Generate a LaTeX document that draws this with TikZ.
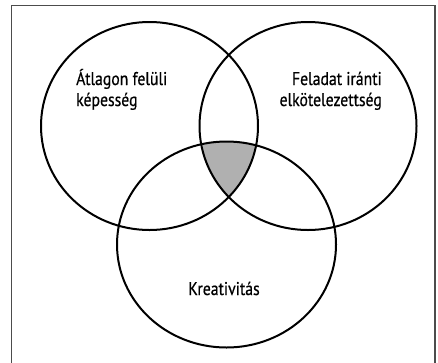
\documentclass[tikz,border=0pt]{standalone}
\usepackage{fontspec}
\setmainfont{PT Sans}[FakeStretch=0.85,FakeBold=0.6]
\begin{document}
\begin{tikzpicture}[x=1pt,y=-1pt,
  ring/.style={draw=black,line width=2pt},
  lbl/.style={font=\fontsize{18.5}{21}\selectfont,inner sep=0pt}]
\useasboundingbox (0,0) rectangle (438,362);
\draw[draw=black!70,line width=1.3pt] (11.5,375) -- (11.5,5.5) -- (435,5.5) -- (435,375);
\begin{scope}
  \clip (149.5,126) ellipse [x radius=108.5,y radius=104];
  \clip (308,126) ellipse [x radius=108.5,y radius=104];
  \fill[black!31] (226.5,244.5) ellipse [x radius=109.5,y radius=103];
\end{scope}
\draw[ring] (149.5,126) ellipse [x radius=108.5,y radius=104];
\draw[ring] (308,126) ellipse [x radius=108.5,y radius=104];
\draw[ring] (226.5,244.5) ellipse [x radius=109.5,y radius=103];
\node[lbl,anchor=base west,align=left] (a) at (76,106) {Átlagon felüli\\képesség};
\node[lbl,anchor=base east,align=right] (b) at (382,106) {Feladat iránti\\elkötelezettség};
\node[lbl,anchor=base] (c) at (224,295) {Kreativitás};
\end{tikzpicture}
\end{document}
